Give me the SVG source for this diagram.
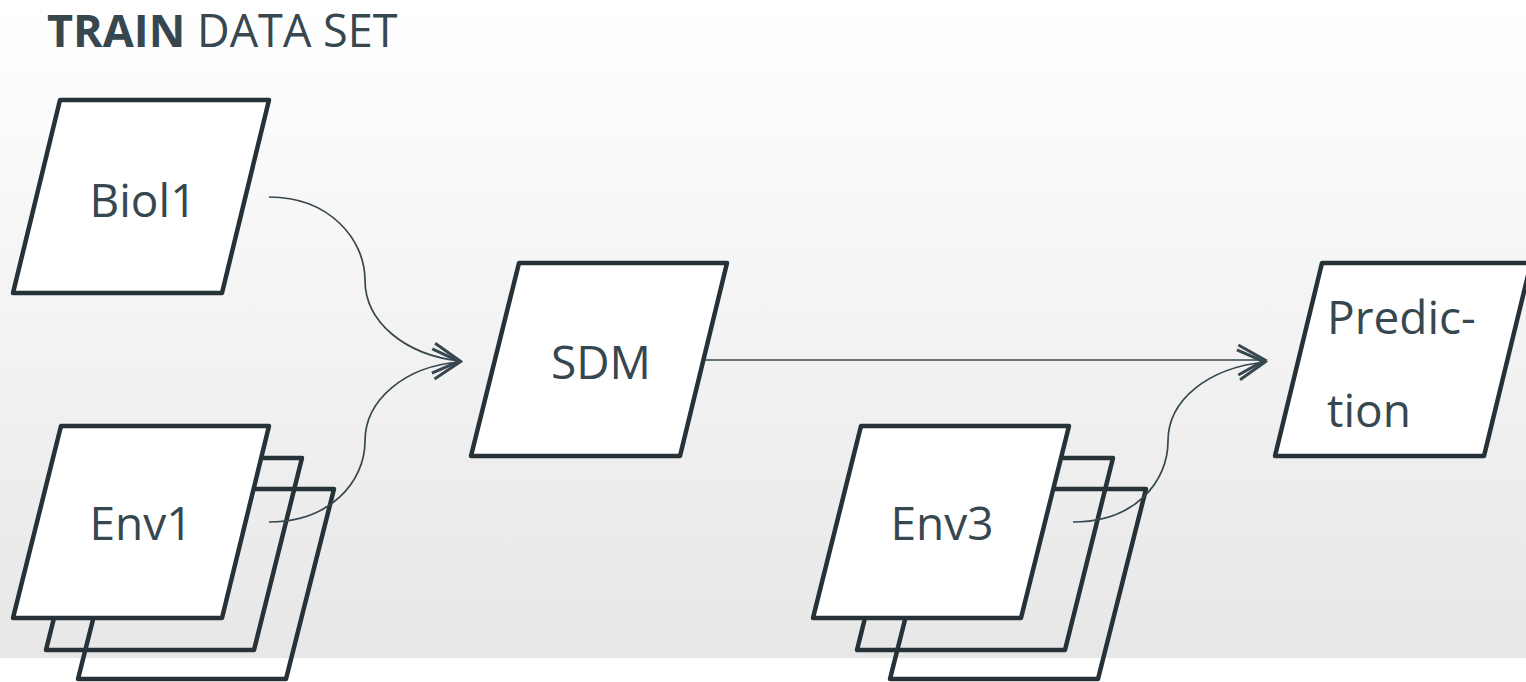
<svg xmlns="http://www.w3.org/2000/svg" width="1526" height="682" viewBox="0 0 1526 682">
  <defs>
    <linearGradient id="bg" x1="0" y1="0" x2="0" y2="658" gradientUnits="userSpaceOnUse">
      <stop offset="0" stop-color="#ffffff"/>
      <stop offset="1" stop-color="#e7e7e7"/>
    </linearGradient>
    <marker id="arr" markerUnits="userSpaceOnUse" markerWidth="40" markerHeight="40" refX="0" refY="0" viewBox="-20 -12 22 24" orient="auto">
      <path d="M-16,-9 L0,0 L-16,9" fill="none" stroke="#37474F" stroke-width="1.8" stroke-linejoin="miter"/>
    </marker>
    <style>
      .shape { stroke: #263238; stroke-width: 4.5; stroke-linejoin: round; }
      .front { fill: #ffffff; }
      .back { fill: none; }
      .lbl { font-family: "Open Sans", "Liberation Sans", sans-serif; font-size: 46px; fill: #37474F; }
      .conn { fill: none; stroke: #37474F; stroke-width: 1.7; marker-end: url(#arr); }
    </style>
  </defs>
  <rect x="0" y="0" width="1526" height="658" fill="url(#bg)"/>
  <rect x="0" y="658" width="1526" height="24" fill="#ffffff"/>

  <text x="47" y="47" class="lbl" style="font-size:45px"><tspan font-weight="bold">TRAIN</tspan> DATA SET</text>

  <g id="biol1">
    <polygon class="shape front" points="60,100 269,100 222,293 13,293"/>
    <text class="lbl" x="143" y="217" text-anchor="middle">Biol1</text>
  </g>

  <g id="env1">
    <polygon class="shape back" points="126,489 334,489 286,679 78,679"/>
    <polygon class="shape back" points="94,458 302,458 254,650 46,650"/>
    <polygon class="shape front" points="61,426 269,426 222,618 13,618"/>
    <text class="lbl" x="141" y="540" text-anchor="middle">Env1</text>
  </g>

  <g id="sdm">
    <polygon class="shape front" points="519,263 727,263 680,456 471,456"/>
    <text class="lbl" x="601" y="379" text-anchor="middle">SDM</text>
  </g>

  <g id="env3">
    <polygon class="shape back" points="938,489 1146,489 1098,679 890,679"/>
    <polygon class="shape back" points="905,458 1113,458 1065,650 857,650"/>
    <polygon class="shape front" points="861,426 1069,426 1021,618 813,618"/>
    <text class="lbl" x="942" y="540" text-anchor="middle">Env3</text>
  </g>

  <g id="prediction">
    <polygon class="shape front" points="1322,263 1531,263 1484,456 1275,456"/>
    <text class="lbl" x="1327" y="334">Predic-</text>
    <text class="lbl" x="1327" y="427">tion</text>
  </g>

  <g id="connectors">
    <path class="conn" d="M269,197 C330,197 365,240 365,280 C365,322 405,355 460,361"/>
    <path class="conn" d="M269,522 C330,522 365,482 365,441 C365,400 405,366 460,362"/>
    <path class="conn" d="M705,360 L1265,360"/>
    <path class="conn" d="M1073,522 C1135,522 1168,482 1168,441 C1168,400 1208,368 1265,362"/>
  </g>
</svg>
